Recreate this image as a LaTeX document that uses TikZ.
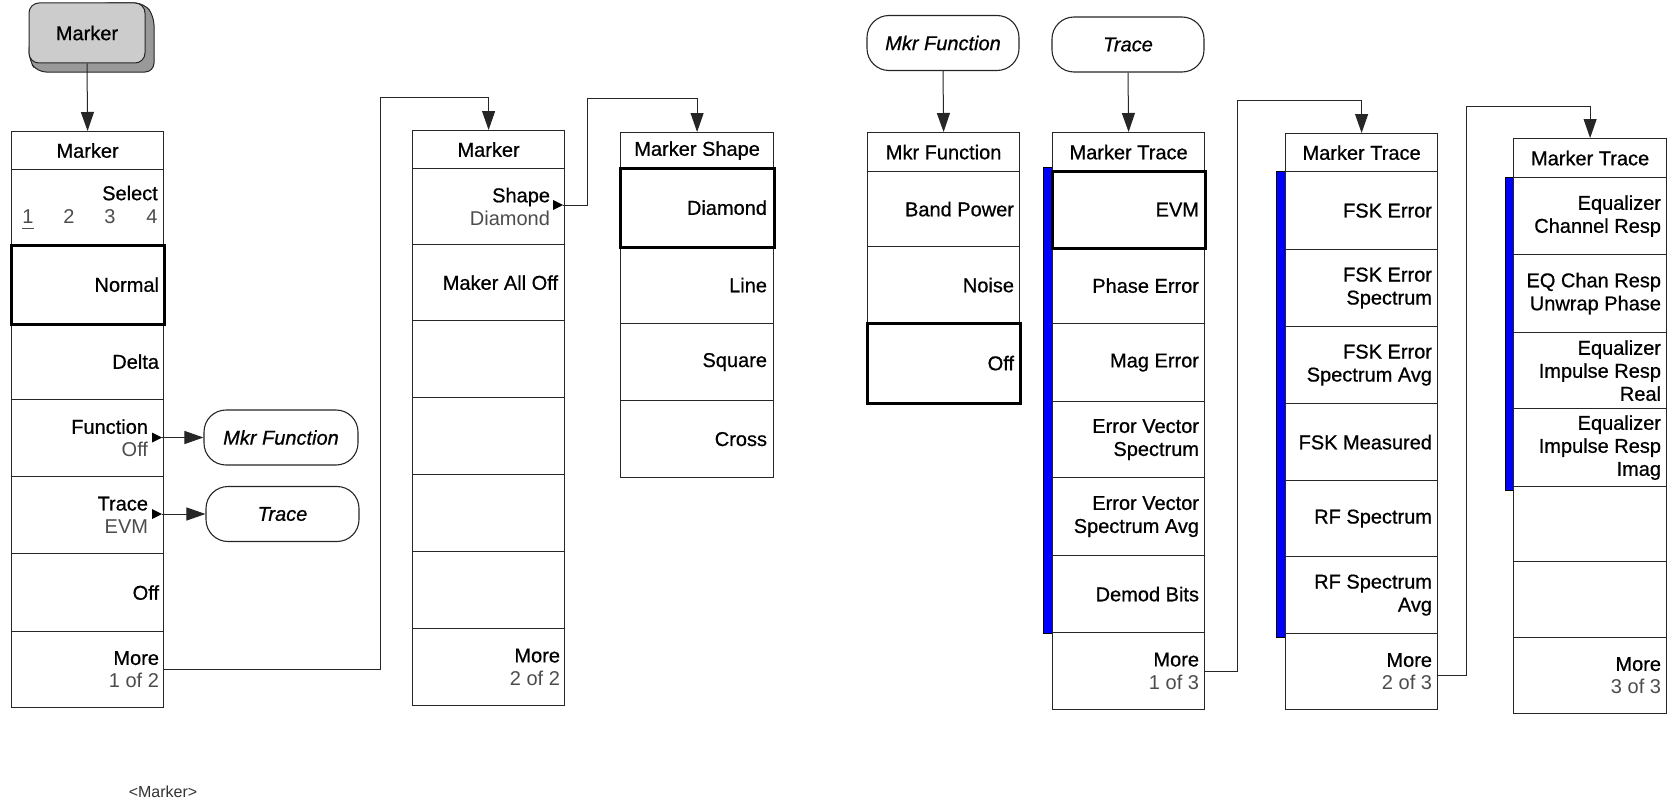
\documentclass[tikz,border=0pt]{standalone}
\usepackage{fontspec}
\setmainfont{Liberation Sans}
\newfontfamily\labfont{Liberation Sans}[FakeBold=0.7]
\usetikzlibrary{arrows.meta}
\newcommand\sectext[1]{{\rmfamily\color{black!70}#1}}
\newcommand\mkmenu[4]{\foreach \i/\a/\b in {#4}{\node[cell,minimum width=#3pt,minimum height=\b-\a] (#1\i) at (#2,\a) {};}}
\begin{document}
\begin{tikzpicture}[x=1pt,y=-1pt,
 cell/.style={draw=black!85,line width=1.2pt,inner sep=0pt,anchor=north west,fill=white},
 sel/.style={draw=black,line width=3pt},
 lab/.style={font=\labfont\fontsize{20}{23}\selectfont,align=right,anchor=east,inner sep=0pt},
 hdr/.style={font=\labfont\fontsize{20}{23}\selectfont,inner sep=0pt},
 oval/.style={draw=black!85,line width=1.1pt,rounded corners=22pt,minimum height=55pt,font=\labfont\fontsize{20}{23}\selectfont\itshape,inner sep=0pt},
 conn/.style={draw=black!85,line width=1pt},
 arr/.style={conn,-{Triangle[length=19pt,width=13pt]}},
 bar/.style={fill=blue,draw=black,line width=0.6pt,minimum width=9pt,inner sep=0pt,anchor=north west},
 tri/.style={fill=black}]
\useasboundingbox[fill=white] (0,0) rectangle (1669,808);

% key
\fill[black!40,draw=black!85,line width=1pt,rounded corners=9pt] (29,40) -- (29,60) -- (37,72) -- (154,72) -- (154,16) -- (144,3) -- (100,3) -- cycle;
\node[draw=black!85,line width=1pt,fill=black!20,rounded corners=10pt,minimum width=116pt,minimum height=60pt,font=\labfont\fontsize{20}{23}\selectfont] (key) at (87,33) {Marker};

% blue bars
\node[bar,minimum height=466pt] (barE) at (1043,167) {};
\node[bar,minimum height=466pt] (barF) at (1276,171) {};
\node[bar,minimum height=313pt] (barG) at (1505,177) {};

% menus
\mkmenu{A}{11}{152}{0/131/169,1/169/245,2/245/323,3/323/399,4/399/476,5/476/553,6/553/631,7/631/707}
\mkmenu{B}{412}{152}{0/130/168,1/168/244,2/244/320,3/320/397,4/397/474,5/474/551,6/551/628,7/628/705}
\mkmenu{C}{620}{153}{0/132/168,1/168/246,2/246/323,3/323/400,4/400/477}
\mkmenu{D}{867}{152}{0/132/171,1/171/246,2/246/323,3/323/402}
\mkmenu{E}{1052}{152}{0/132/171,1/171/247,2/247/323,3/323/401,4/401/477,5/477/555,6/555/632,7/632/709}
\mkmenu{F}{1285}{152}{0/133/171,1/171/249,2/249/326,3/326/403,4/403/480,5/480/556,6/556/633,7/633/709}
\mkmenu{G}{1513}{153}{0/138/177,1/177/254,2/254/332,3/332/408,4/408/486,5/486/561,6/561/637,7/637/713}

% selected cells
\draw[sel] (A2.north west) rectangle (A2.south east);
\draw[sel] (C1.north west) rectangle (C1.south east);
\draw[sel] (D3.north west) rectangle (D3.south east);
\draw[sel] (E1.north west) rectangle (E1.south east);

% headers
\node[hdr] (A0t) at (A0) {Marker};
\node[hdr] (B0t) at (B0) {Marker};
\node[hdr] (C0t) at (C0) {Marker Shape};
\node[hdr] (D0t) at (D0) {Mkr Function};
\node[hdr] (E0t) at (E0) {Marker Trace};
\node[hdr] (F0t) at (F0) {Marker Trace};
\node[hdr] (G0t) at (G0) {Marker Trace};

% menu A labels
\node[lab] (A1t) at (158,193) {Select};
\node[hdr] (d1) at (28,217) {\sectext{1}};
\node[hdr] (d2) at (69,217) {\sectext{2}};
\node[hdr] (d3) at (110,217) {\sectext{3}};
\node[hdr] (d4) at (152,217) {\sectext{4}};
\draw[black!70,line width=1pt] (22,228) -- (34,228);
\node[lab] (A2t) at ([xshift=-5pt]A2.east) {Normal};
\node[lab] (A3t) at ([xshift=-5pt]A3.east) {Delta};
\node[lab] (A4t) at ([xshift=-16pt]A4.east) {Function\\\sectext{Off}};
\node[lab] (A5t) at ([xshift=-16pt]A5.east) {Trace\\\sectext{EVM}};
\node[lab] (A6t) at ([xshift=-5pt]A6.east) {Off};
\node[lab] (A7t) at ([xshift=-5pt]A7.east) {More\\\sectext{1 of 2}};

% menu B labels
\node[lab] (B1t) at ([xshift=-15pt]B1.east) {Shape\\\sectext{Diamond}};
\node[lab] (B2t) at ([xshift=-7pt]B2.east) {Maker All Off};
\node[lab] (B7t) at ([xshift=-5pt]B7.east) {More\\\sectext{2 of 2}};

% menu C labels
\node[lab] (C1t) at ([xshift=-7pt]C1.east) {Diamond};
\node[lab] (C2t) at ([xshift=-7pt]C2.east) {Line};
\node[lab] (C3t) at ([xshift=-7pt]C3.east) {Square};
\node[lab] (C4t) at ([xshift=-7pt]C4.east) {Cross};

% menu D labels
\node[lab] (D1t) at ([xshift=-6pt]D1.east) {Band Power};
\node[lab] (D2t) at ([xshift=-6pt]D2.east) {Noise};
\node[lab] (D3t) at ([xshift=-6pt]D3.east) {Off};

% menu E labels
\node[lab] (E1t) at ([xshift=-6pt]E1.east) {EVM};
\node[lab] (E2t) at ([xshift=-6pt]E2.east) {Phase Error};
\node[lab] (E3t) at ([xshift=-6pt]E3.east) {Mag Error};
\node[lab] (E4t) at ([xshift=-6pt]E4.east) {Error Vector\\Spectrum};
\node[lab] (E5t) at ([xshift=-6pt]E5.east) {Error Vector\\Spectrum Avg};
\node[lab] (E6t) at ([xshift=-6pt]E6.east) {Demod Bits};
\node[lab] (E7t) at ([xshift=-6pt]E7.east) {More\\\sectext{1 of 3}};

% menu F labels
\node[lab] (F1t) at ([xshift=-6pt]F1.east) {FSK Error};
\node[lab] (F2t) at ([xshift=-6pt]F2.east) {FSK Error\\Spectrum};
\node[lab] (F3t) at ([xshift=-6pt]F3.east) {FSK Error\\Spectrum Avg};
\node[lab] (F4t) at ([xshift=-6pt]F4.east) {FSK Measured};
\node[lab] (F5t) at ([xshift=-6pt]F5.east) {RF Spectrum};
\node[lab] (F6t) at ([xshift=-6pt]F6.east) {RF Spectrum\\Avg};
\node[lab] (F7t) at ([xshift=-6pt]F7.east) {More\\\sectext{2 of 3}};

% menu G labels
\node[lab] (G1t) at ([xshift=-6pt]G1.east) {Equalizer\\Channel Resp};
\node[lab] (G2t) at ([xshift=-6pt]G2.east) {EQ Chan Resp\\Unwrap Phase};
\node[lab] (G3t) at ([xshift=-6pt]G3.east) {Equalizer\\Impulse Resp\\Real};
\node[lab] (G4t) at ([xshift=-6pt]G4.east) {Equalizer\\Impulse Resp\\Imag};
\node[lab] (G7t) at ([xshift=-6pt]G7.east) {More\\\sectext{3 of 3}};

% ovals
\node[oval,minimum width=154pt] (ofA) at (281,437.5) {Mkr Function};
\node[oval,minimum width=153pt] (otA) at (282.5,514) {Trace};
\node[oval,minimum width=152pt] (ofB) at (943,43) {Mkr Function};
\node[oval,minimum width=152pt] (otB) at (1128,44.5) {Trace};

% small submenu triangles
\coordinate (fT) at (162,437.5);
\coordinate (tT) at (162,514);
\coordinate (sT) at (563,205);
\fill[tri] (fT) -- ++(-10,-5) -- ++(0,10) -- cycle;
\fill[tri] (tT) -- ++(-10,-5) -- ++(0,10) -- cycle;
\fill[tri] (sT) -- ++(-10,-5) -- ++(0,10) -- cycle;

% connectors
\draw[arr] (key.south) -- (A0.north);
\draw[arr] (fT) -- (ofA.west);
\draw[arr] (tT) -- (otA.west);
\draw[arr] (A7.east) -| (380,97) -| (B0.north);
\draw[arr] (sT) -| (587,98) -| (C0.north);
\draw[arr] (ofB.south) -- (D0.north);
\draw[arr] (otB.south) -- (E0.north);
\draw[arr] (E7.east) -| (1237,100) -| (F0.north);
\draw[arr] ([yshift=-4pt]F7.east) -| (1466,106) -| (G0.north);

% caption
\node[font=\fontsize{16}{18}\selectfont,text=black!80,inner sep=0pt] (cap) at (163,792) {<Marker>};
\end{tikzpicture}
\end{document}
